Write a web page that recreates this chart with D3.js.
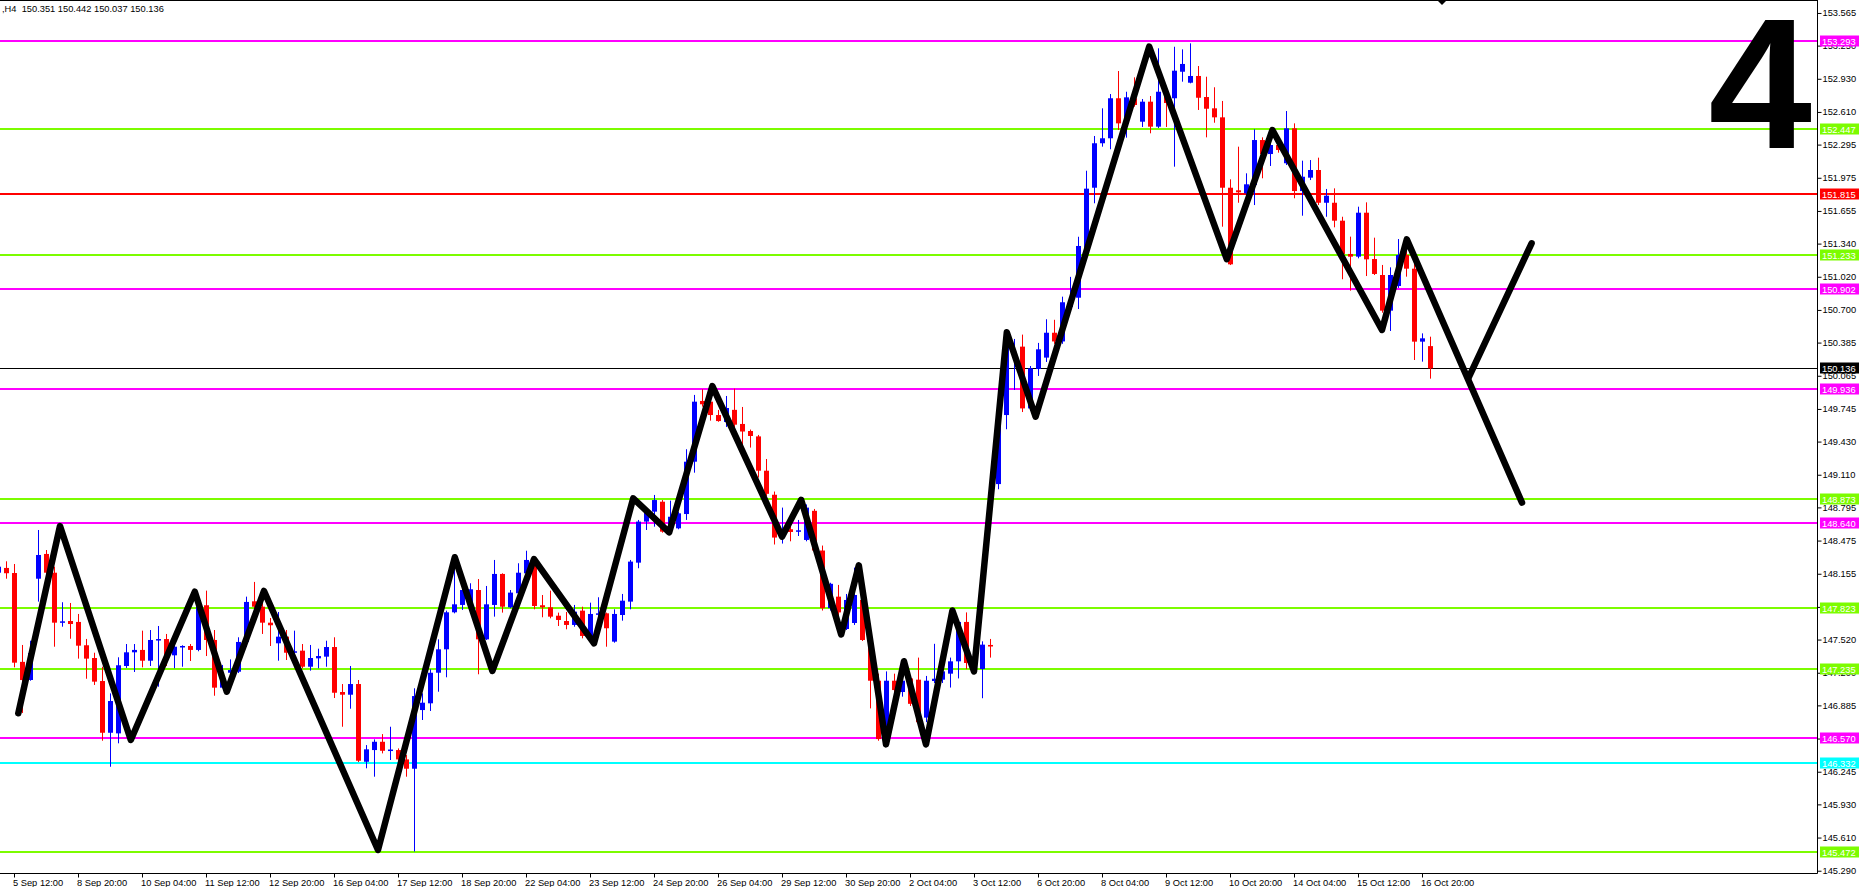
<!DOCTYPE html>
<html>
<head>
<meta charset="utf-8">
<script src="https://cdn.jsdelivr.net/npm/d3@7"></script>
<style>
html, body { margin: 0; padding: 0; background: #fff; }
svg { display: block; }
text { font-family: "Liberation Sans", Arial, sans-serif; }
</style>
</head>
<body>
<svg id="chart" width="1861" height="887"></svg>
<script>
// USDJPY H4, bars counted from 5 Sep 12:00 (bar 0); first visible bar is -2
var firstBar = -2;

var opens = [148.165,148.211,148.162,147.305,147.130,148.107,148.346,148.165,147.683,147.699,
  147.690,147.465,147.342,147.120,146.621,146.615,147.265,147.397,147.420,147.316,
  147.516,147.525,147.368,147.445,147.458,147.420,147.851,147.516,147.056,147.200,
  147.210,147.497,147.889,147.837,147.683,147.484,147.548,147.397,147.413,147.258,
  147.339,147.355,147.448,147.014,146.988,147.091,146.341,146.454,146.534,146.454,
  146.454,146.364,146.274,146.840,146.905,147.200,147.426,147.783,147.854,147.837,
  147.998,147.522,147.854,148.153,147.831,147.967,148.159,148.288,147.851,147.831,
  147.750,147.699,147.661,147.799,147.548,147.767,147.773,147.500,147.757,147.886,
  148.262,148.658,148.754,148.850,148.577,148.593,148.731,149.236,149.822,149.815,
  149.686,149.619,149.736,149.600,149.532,149.480,149.149,148.917,148.558,148.584,
  148.570,148.481,148.762,148.379,147.823,147.934,147.622,147.680,147.902,147.516,
  147.123,146.522,147.123,147.014,147.145,147.133,146.767,147.120,147.133,147.191,
  147.310,147.690,147.294,147.236,147.468,149.020,149.686,150.236,150.346,149.750,
  150.130,150.240,150.480,150.396,150.729,150.818,151.264,151.879,152.308,152.356,
  152.742,152.500,152.742,152.516,152.709,152.468,152.764,152.742,152.998,152.892,
  152.957,152.754,152.645,152.558,151.879,151.854,151.825,151.905,152.339,152.204,
  152.291,152.115,152.452,151.847,151.976,152.050,151.734,151.734,151.561,151.240,
  151.214,151.638,151.191,151.037,150.693,150.931,151.230,151.098,150.394,150.351];

var highs = [148.236,148.275,148.249,147.468,147.509,148.577,148.384,148.223,147.880,147.873,
  147.767,147.526,147.393,147.258,147.001,147.349,147.477,147.477,147.606,147.612,
  147.651,147.574,147.516,147.465,147.477,147.902,147.992,147.612,147.275,147.329,
  147.542,147.934,148.076,147.886,147.728,147.786,147.612,147.606,147.477,147.468,
  147.432,147.509,147.542,147.091,147.265,147.130,146.502,146.557,146.608,146.679,
  146.470,146.406,147.050,147.001,147.233,147.522,147.799,148.288,148.030,148.063,
  148.104,148.037,148.288,148.159,147.998,148.256,148.377,148.304,147.950,147.992,
  147.780,147.786,147.854,147.837,147.876,147.928,147.780,147.812,147.960,148.288,
  148.674,148.790,148.915,148.866,148.860,148.754,149.356,149.880,149.935,149.896,
  149.735,149.870,149.941,149.764,149.546,149.494,149.262,148.948,148.793,148.611,
  148.674,148.824,148.780,148.427,148.068,148.047,147.960,148.214,147.921,147.569,
  147.191,147.213,147.191,147.188,147.159,147.346,147.169,147.479,147.255,147.346,
  147.711,147.782,147.323,147.503,147.526,149.783,150.487,150.420,150.462,150.159,
  150.382,150.610,150.605,150.828,151.019,151.406,152.043,152.378,152.645,152.783,
  153.005,152.805,152.944,152.735,152.764,153.224,152.860,153.239,153.214,153.272,
  153.053,152.950,152.848,152.716,151.960,152.275,152.018,152.443,152.365,152.346,
  152.371,152.619,152.500,152.140,152.146,152.169,151.867,151.873,151.599,151.407,
  151.696,151.738,151.397,151.134,151.111,151.384,151.278,151.150,150.474,150.442];

var lows = [148.159,148.107,147.252,146.812,147.123,147.886,148.126,147.451,147.644,147.528,
  147.336,147.142,147.082,146.544,146.293,146.519,147.246,147.207,147.252,147.265,
  147.065,147.265,147.243,147.258,147.313,147.407,147.361,146.978,147.050,147.188,
  147.197,147.450,147.709,147.574,147.458,147.316,147.323,147.387,147.243,147.220,
  147.243,147.258,146.956,146.679,146.853,146.338,146.278,146.197,146.422,146.358,
  146.341,146.197,145.475,146.744,146.831,147.017,147.156,147.773,147.806,147.822,
  147.185,147.516,147.741,147.780,147.822,147.822,148.143,147.812,147.735,147.725,
  147.651,147.619,147.644,147.532,147.532,147.644,147.451,147.490,147.702,147.812,
  148.208,148.577,148.609,148.551,148.545,148.584,148.674,149.130,149.767,149.632,
  149.621,149.571,149.527,149.394,149.372,149.083,148.905,148.437,148.446,148.468,
  148.519,148.468,148.369,147.800,147.800,147.622,147.612,147.661,147.506,146.856,
  146.544,146.503,146.947,146.969,146.879,146.701,146.723,147.101,147.101,147.057,
  147.145,147.235,147.197,146.954,147.346,148.970,149.549,149.928,149.715,149.728,
  150.063,150.198,150.373,150.373,150.709,150.709,151.220,151.729,152.275,152.250,
  152.436,152.362,152.661,152.465,152.404,152.455,152.465,152.082,152.902,152.886,
  152.629,152.365,152.506,151.503,151.133,151.734,151.712,151.712,151.970,152.089,
  152.217,152.098,151.777,151.609,151.953,151.712,151.599,151.497,150.996,150.886,
  151.198,151.027,151.037,150.673,150.497,150.912,151.021,150.217,150.201,150.037];

var closes = [148.223,148.160,147.297,147.130,147.390,148.336,148.165,147.683,147.696,147.670,
  147.461,147.336,147.114,146.621,146.927,147.272,147.397,147.420,147.316,147.516,
  147.525,147.361,147.451,147.458,147.420,147.837,147.516,147.056,147.162,147.226,
  147.497,147.883,147.837,147.683,147.658,147.548,147.393,147.407,147.258,147.342,
  147.361,147.448,147.007,146.988,147.091,146.351,146.461,146.534,146.447,146.459,
  146.364,146.274,146.975,146.911,147.200,147.426,147.783,147.860,147.998,148.005,
  147.522,147.860,148.153,147.837,147.973,148.165,148.288,147.844,147.831,147.741,
  147.709,147.661,147.789,147.555,147.767,147.773,147.629,147.767,147.895,148.272,
  148.658,148.754,148.866,148.561,148.705,148.738,149.236,149.815,149.790,149.686,
  149.628,149.754,149.593,149.527,149.484,149.149,148.926,148.504,148.579,148.558,
  148.574,148.793,148.379,147.823,148.058,147.782,147.902,147.950,147.516,147.123,
  146.560,147.123,147.033,147.123,146.900,146.723,147.123,147.142,147.213,147.310,
  147.690,147.294,147.217,147.471,147.453,149.686,150.396,150.294,149.750,150.137,
  150.320,150.480,150.396,150.774,150.762,151.317,151.870,152.308,152.356,152.742,
  152.500,152.751,152.677,152.709,152.468,152.805,152.696,153.008,153.073,152.957,
  152.747,152.641,152.558,151.879,151.140,151.835,151.912,152.339,152.204,152.291,
  152.243,152.452,151.847,151.985,152.050,151.734,151.802,151.561,151.240,151.214,
  151.638,151.188,151.047,150.693,151.037,151.230,151.098,150.394,150.426,150.136];

var timeLabels = ["5 Sep 12:00","8 Sep 20:00","10 Sep 04:00","11 Sep 12:00","12 Sep 20:00",
  "16 Sep 04:00","17 Sep 12:00","18 Sep 20:00","22 Sep 04:00","23 Sep 12:00","24 Sep 20:00",
  "26 Sep 04:00","29 Sep 12:00","30 Sep 20:00","2 Oct 04:00","3 Oct 12:00","6 Oct 20:00",
  "8 Oct 04:00","9 Oct 12:00","10 Oct 20:00","14 Oct 04:00","15 Oct 12:00","16 Oct 20:00"];
var timeLabelBars = [0,8,16,24,32,40,48,56,64,72,80,88,96,104,112,120,128,136,144,152,160,168,176];

var priceTicks = [153.565,153.250,152.930,152.610,152.295,151.975,151.655,151.340,151.020,
  150.700,150.385,150.065,149.745,149.430,149.110,148.795,148.475,148.155,147.835,147.520,
  147.200,146.885,146.565,146.245,145.930,145.610,145.290];

var magentaLevels = [153.293, 150.902, 149.936, 148.640, 146.570];
var greenLevels = [152.447, 151.233, 148.873, 147.823, 147.235, 145.472];
var redLevels = [151.815];
var cyanLevels = [146.332];
var lastPrice = 150.136;

// hand drawn wave count
var zigzagBars = [0.54,5.75,14.6,22.6,26.6,31.25,45.5,55.1,59.8,65.0,72.5,77.4,81.9,87.3,
  96.0,98.4,103.4,105.6,109.0,111.25,114.0,117.3,120.0,124.1,127.7,141.9,151.6,157.3,
  171.0,174.1,188.5];
var zigzagPrices = [146.809,148.615,146.551,147.982,147.017,147.989,145.490,148.314,147.217,
  148.297,147.484,148.883,148.555,149.966,148.512,148.868,147.569,148.236,146.509,147.311,
  146.509,147.800,147.213,150.484,149.670,153.240,151.189,152.436,150.507,151.381,148.841];
var forkBars = [181.8, 189.7];
var forkPrices = [150.041, 151.343];

var headerText = ",H4  150.351 150.442 150.037 150.136";
var waveLabel = "4";

var W = 1861, H = 887, plotRight = 1817, plotBottom = 873;
var fontSize = "9.3px";
var colors = { magenta: "#ff00ff", green: "#7cfc00", red: "#ff0000", cyan: "#00ffff",
  up: "#0000ff", down: "#ff0000" };

var svg = d3.select("#chart");
svg.append("rect").attr("width", W).attr("height", H).attr("fill", "#fff");

var x = d3.scaleLinear().domain([0, 176]).range([14, 1422]);
var y = d3.scaleLinear().domain([145.268, 153.690]).range([plotBottom, 0]);

svg.append("clipPath").attr("id", "plot")
  .append("rect").attr("width", plotRight).attr("height", plotBottom);

var plot = svg.append("g").attr("clip-path", "url(#plot)");

// level lines
var levels = [];
magentaLevels.forEach(function(p) { levels.push({ p: p, c: colors.magenta }); });
greenLevels.forEach(function(p) { levels.push({ p: p, c: colors.green }); });
redLevels.forEach(function(p) { levels.push({ p: p, c: colors.red }); });
cyanLevels.forEach(function(p) { levels.push({ p: p, c: colors.cyan }); });

plot.selectAll("line.level")
  .data(levels)
  .enter().append("line")
  .attr("x1", 0).attr("x2", plotRight)
  .attr("y1", function(d) { return Math.round(y(d.p)); })
  .attr("y2", function(d) { return Math.round(y(d.p)); })
  .attr("stroke", function(d) { return d.c; })
  .attr("stroke-width", 2);

plot.append("line")
  .attr("x1", 0).attr("x2", plotRight)
  .attr("y1", Math.round(y(lastPrice)) + 0.5).attr("y2", Math.round(y(lastPrice)) + 0.5)
  .attr("stroke", "#000").attr("stroke-width", 1);

// candles
var bars = opens.map(function(o, k) {
  return { bar: firstBar + k, o: o, h: highs[k], l: lows[k], c: closes[k] };
});

var candle = plot.selectAll("g.candle")
  .data(bars)
  .enter().append("g")
  .attr("transform", function(d) { return "translate(" + Math.round(x(d.bar)) + ",0)"; });

candle.append("line")
  .attr("x1", 0.5).attr("x2", 0.5)
  .attr("y1", function(d) { return y(d.h); })
  .attr("y2", function(d) { return y(d.l); })
  .attr("stroke", function(d) { return d.c >= d.o ? colors.up : colors.down; })
  .attr("stroke-width", 1);

candle.append("rect")
  .attr("x", -2).attr("width", 5)
  .attr("y", function(d) { return Math.min(y(d.o), y(d.c)); })
  .attr("height", function(d) { return Math.max(1.5, Math.abs(y(d.o) - y(d.c))); })
  .attr("fill", function(d) { return d.c >= d.o ? colors.up : colors.down; });

// wave lines
var line = d3.line()
  .x(function(d) { return x(d[0]); })
  .y(function(d) { return y(d[1]); });

plot.append("path")
  .attr("d", line(zigzagBars.map(function(b, i) { return [b, zigzagPrices[i]]; })))
  .attr("fill", "none").attr("stroke", "#000").attr("stroke-width", 6.5)
  .attr("stroke-linejoin", "round").attr("stroke-linecap", "round");

plot.append("path")
  .attr("d", line(forkBars.map(function(b, i) { return [b, forkPrices[i]]; })))
  .attr("fill", "none").attr("stroke", "#000").attr("stroke-width", 6.5)
  .attr("stroke-linejoin", "round").attr("stroke-linecap", "round");

// big wave number
svg.append("text")
  .attr("x", 1812).attr("y", 148)
  .attr("text-anchor", "end")
  .style("font-size", "186px").style("font-weight", "bold")
  .attr("fill", "#000")
  .text(waveLabel);

// frame
svg.append("line").attr("x1", 0).attr("x2", plotRight + 1).attr("y1", 0.5).attr("y2", 0.5)
  .attr("stroke", "#000");
svg.append("path").attr("d", "M1437,0L1447,0L1442,5Z").attr("fill", "#000");

// right price axis
var yAxis = d3.axisRight(y)
  .tickValues(priceTicks)
  .tickFormat(d3.format(".3f"))
  .tickSize(4).tickPadding(1);

var ya = svg.append("g")
  .attr("transform", "translate(" + (plotRight + 0.5) + ",0)")
  .call(yAxis);
ya.select(".domain").attr("d", "M0,0V" + (plotBottom + 0.5)).attr("stroke", "#000");
ya.selectAll("text").style("font-size", fontSize).attr("fill", "#000")
  .style("font-family", "'Liberation Sans', Arial, sans-serif");

// bottom time axis
var xAxis = d3.axisBottom(x)
  .tickValues(timeLabelBars)
  .tickFormat(function(d, i) { return timeLabels[i]; })
  .tickSize(4).tickPadding(2);

var xa = svg.append("g")
  .attr("transform", "translate(0," + (plotBottom + 0.5) + ")")
  .call(xAxis);
xa.select(".domain").attr("d", "M0,0H" + (plotRight + 0.5)).attr("stroke", "#000");
xa.selectAll(".tick").attr("transform", function(d) {
  return "translate(" + (Math.round(x(d)) + 0.5) + ",0)";
});
xa.selectAll("text").attr("text-anchor", "start").attr("dx", -1.5)
  .style("font-size", fontSize).attr("fill", "#000")
  .style("font-family", "'Liberation Sans', Arial, sans-serif");

// level labels on the axis
var tags = levels.concat([{ p: lastPrice, c: "#000" }]);
var tag = svg.selectAll("g.tag")
  .data(tags)
  .enter().append("g")
  .attr("transform", function(d) { return "translate(1820," + Math.round(y(d.p)) + ")"; });
tag.append("rect")
  .attr("x", 0).attr("y", -5.5).attr("width", 39).attr("height", 11)
  .attr("fill", function(d) { return d.c; });
tag.append("text")
  .attr("x", 2).attr("y", 3.5)
  .style("font-size", fontSize).attr("fill", "#fff")
  .text(function(d) { return d3.format(".3f")(d.p); });

// header
svg.append("text")
  .attr("x", 2).attr("y", 12)
  .style("font-size", fontSize).attr("fill", "#000")
  .attr("xml:space", "preserve")
  .style("white-space", "pre")
  .text(headerText);
</script>
</body>
</html>
